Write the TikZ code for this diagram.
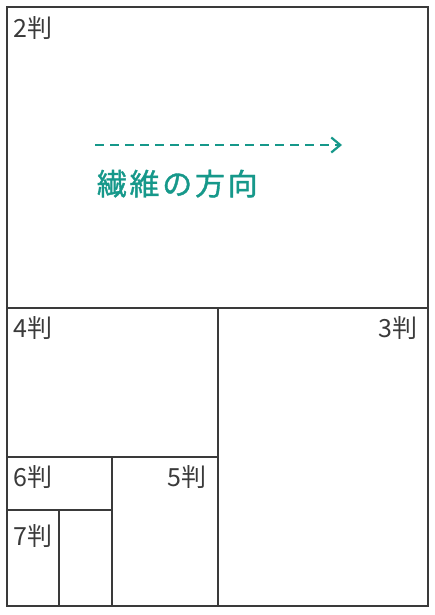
\documentclass[tikz,border=0pt]{standalone}
\usepackage{fontspec}
\setmainfont{Noto Sans CJK JP}
\usetikzlibrary{arrows.meta}
\definecolor{fibreteal}{RGB}{22,152,138}
\definecolor{edgegray}{RGB}{58,58,58}
\tikzset{sizelabel/.style={text=edgegray,font=\fontsize{25}{25}\selectfont,inner sep=0pt}}

\begin{document}
\begin{tikzpicture}[x=1pt,y=-1pt,line width=1.8pt]
                        \useasboundingbox (0,0) rectangle (435,615);

                        % sheet and its cuts
                        \draw [draw=edgegray] (7,7) rectangle (428,606);
                        \draw [draw=edgegray] (7,308)--++(421,0);
                        \draw [draw=edgegray] (218,308)--++(0,298);
                        \draw [draw=edgegray] (7,457)--++(211,0);
                        \draw [draw=edgegray] (112,457)--++(0,149);
                        \draw [draw=edgegray] (7,510)--++(105,0);
                        \draw [draw=edgegray] (59,510)--++(0,96);

                        % sizes
                        \node [sizelabel, anchor=base west] (han2) at (13,38) {2判};
                        \node [sizelabel, anchor=base west] (han4) at (13,337) {4判};
                        \node [sizelabel, anchor=base east] (han3) at (418,337) {3判};
                        \node [sizelabel, anchor=base west] (han6) at (13,486) {6判};
                        \node [sizelabel, anchor=base east] (han5) at (207,486) {5判};
                        \node [sizelabel, anchor=base west] (han7) at (13,545) {7判};

                        % grain direction
                        \coordinate (grainstart) at (95,145);
                        \coordinate (grainend) at (342,145);
                        \draw [draw=fibreteal, line width=2.2pt, dash pattern=on 9pt off 6pt, -{Straight Barb[length=9pt,width=15pt]}] (grainstart)--(grainend);
                        \node [anchor=base west, inner sep=0pt, text=fibreteal, font=\fontsize{30}{30}\selectfont\addfontfeatures{LetterSpace=9,FakeBold=1.2}] (grainlabel) at (96,195) {繊維の方向};
                    \end{tikzpicture}
\end{document}
